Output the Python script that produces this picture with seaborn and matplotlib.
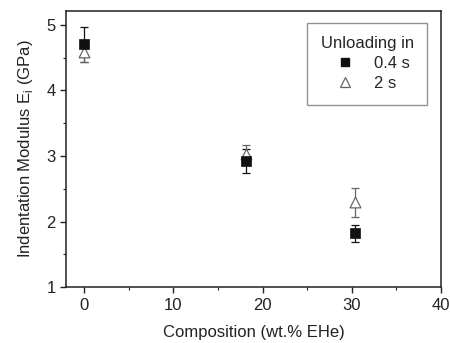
import matplotlib
matplotlib.use("Agg")
import matplotlib.pyplot as plt
from matplotlib.ticker import MultipleLocator
import seaborn as sns
import pandas as pd

# Indentation modulus vs. EHe content for two unloading times
composition = [0.0, 18.1, 30.4]
modulus_fast = [4.70, 2.92, 1.82]      # unloading in 0.4 s
err_fast = [0.27, 0.18, 0.13]
modulus_slow = [4.58, 3.03, 2.29]      # unloading in 2 s
err_slow = [0.15, 0.13, 0.22]
series_labels = ["0.4 s", "2 s"]

sns.set_theme(style="ticks")
plt.rcParams["font.family"] = ["Liberation Sans", "DejaVu Sans"]
plt.rcParams["mathtext.fontset"] = "custom"
plt.rcParams["mathtext.rm"] = "Liberation Sans"

FS = 12

df = pd.DataFrame({
    "composition": composition * 2,
    "modulus": modulus_fast + modulus_slow,
    "err": err_fast + err_slow,
    "series": [series_labels[0]] * 3 + [series_labels[1]] * 3,
})

fig = plt.figure(figsize=(4.5, 3.43), dpi=100)
ax = fig.add_axes([0.147, 0.163, 0.833, 0.805])

colors = {"0.4 s": "#111111", "2 s": "#666666"}
for label, sub in df.groupby("series"):
    ax.errorbar(sub["composition"], sub["modulus"], yerr=sub["err"],
                fmt="none", ecolor=colors[label], elinewidth=0.9,
                capsize=3, capthick=0.9, zorder=2)

sns.scatterplot(data=df[df["series"] == "2 s"], x="composition", y="modulus",
                marker="^", s=60, facecolor="white", edgecolor="#666666",
                linewidth=0.9, ax=ax, zorder=3, legend=False)
sns.scatterplot(data=df[df["series"] == "0.4 s"], x="composition", y="modulus",
                marker="s", s=42, color="#111111", edgecolor="#111111",
                linewidth=0.5, ax=ax, zorder=4, legend=False)

ax.set_xlim(-2, 40)
ax.set_ylim(1, 5.21)
ax.xaxis.set_major_locator(MultipleLocator(10))
ax.xaxis.set_minor_locator(MultipleLocator(5))
ax.yaxis.set_major_locator(MultipleLocator(1))
ax.yaxis.set_minor_locator(MultipleLocator(0.5))
ax.tick_params(which="major", direction="out", length=4.5, width=1.0,
               labelsize=FS, colors="#222222", pad=3)
ax.tick_params(which="minor", direction="out", length=2.5, width=0.8,
               colors="#222222")

for side in ["left", "right", "top", "bottom"]:
    ax.spines[side].set_visible(True)
    ax.spines[side].set_linewidth(1.1)
    ax.spines[side].set_color("#222222")

ax.set_xlabel("Composition (wt.% EHe)", fontsize=FS, color="#222222", labelpad=9)
ax.set_ylabel(r"Indentation Modulus E$_\mathregular{i}$ (GPa)", fontsize=FS,
              color="#222222", labelpad=8)

handles = [
    plt.Line2D([], [], marker="s", linestyle="none", markersize=6,
               markerfacecolor="#111111", markeredgecolor="#111111"),
    plt.Line2D([], [], marker="^", linestyle="none", markersize=7,
               markerfacecolor="white", markeredgecolor="#666666",
               markeredgewidth=0.9),
]
leg = ax.legend(handles, series_labels, title="Unloading in", loc="upper right",
                bbox_to_anchor=(0.963, 0.957), borderaxespad=0,
                fontsize=FS, title_fontsize=FS,
                frameon=True, fancybox=False, edgecolor="#777777",
                handletextpad=0.5, borderpad=0.8, labelspacing=0.3,
                handlelength=2.5)
leg.get_frame().set_linewidth(1.0)

fig.savefig("out.png", dpi=100)
